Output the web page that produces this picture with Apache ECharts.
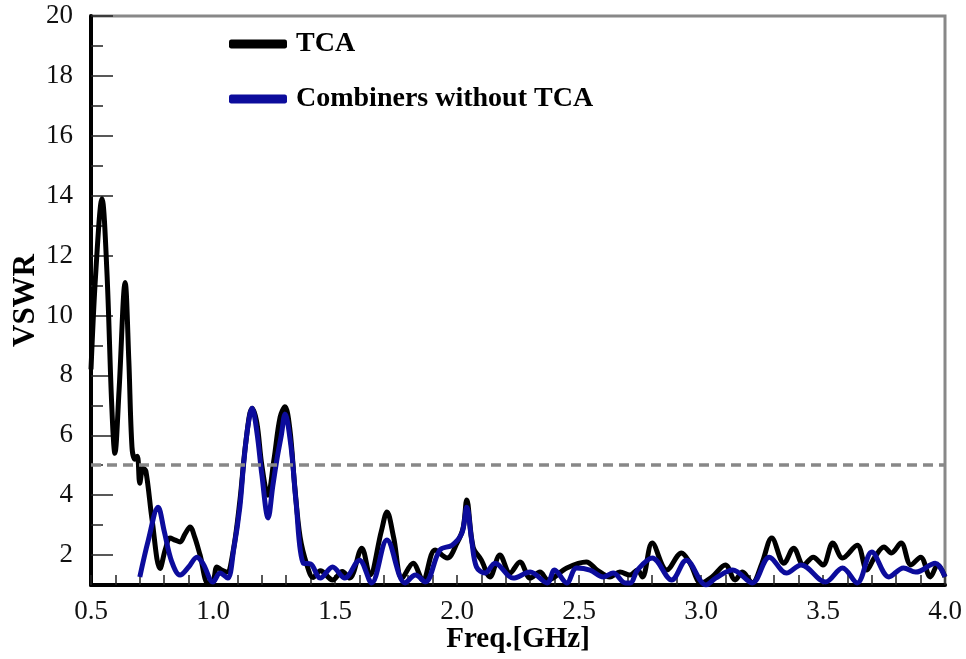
<!DOCTYPE html>
<html>
<head>
<meta charset="utf-8">
<script src="https://cdn.jsdelivr.net/npm/echarts@6/dist/echarts.min.js"></script>
<style>
html,body{margin:0;padding:0;background:#fff;}
#chart{width:966px;height:659px;}
</style>
</head>
<body>
<div id="chart"></div>
<script>
// ---- data ----
const seriesNames = ['TCA', 'Combiners without TCA'];

const tcaFreq = [0.5,0.52,0.545,0.565,0.585,0.598,0.615,0.64,0.655,0.668,0.68,0.69,0.70,0.713,0.725,0.75,0.783,0.805,0.824,0.845,0.865,0.885,0.906,0.925,0.947,0.98,1.0,1.016,1.035,1.057,1.082,1.11,1.135,1.16,1.18,1.2,1.225,1.25,1.275,1.295,1.315,1.335,1.357,1.385,1.41,1.44,1.49,1.53,1.56,1.61,1.643,1.69,1.713,1.74,1.775,1.82,1.86,1.91,1.96,2.0,2.025,2.04,2.066,2.10,2.135,2.176,2.217,2.258,2.30,2.34,2.373,2.45,2.53,2.574,2.627,2.668,2.709,2.74,2.76,2.80,2.86,2.92,2.955,3.0,3.045,3.10,3.14,3.17,3.21,3.25,3.29,3.34,3.38,3.42,3.46,3.50,3.54,3.58,3.64,3.68,3.71,3.75,3.78,3.82,3.86,3.90,3.94,3.97,4.0];
const tcaVswr = [8.2,11.5,13.9,11.5,7.0,5.4,7.5,11.1,8.5,5.6,5.2,5.3,4.4,4.9,4.8,3.2,1.55,2.2,2.57,2.5,2.44,2.7,2.94,2.6,2.0,1.05,1.1,1.6,1.5,1.43,2.1,3.8,5.8,6.9,6.4,5.0,4.0,5.2,6.6,6.95,6.2,4.3,2.6,1.67,1.25,1.48,1.17,1.45,1.23,2.23,1.33,2.8,3.44,2.6,1.23,1.73,1.17,2.17,1.9,2.4,2.9,3.84,2.27,1.83,1.27,2.0,1.4,1.77,1.23,1.43,1.17,1.57,1.77,1.5,1.27,1.43,1.33,1.5,1.27,2.4,1.5,2.07,1.73,1.07,1.27,1.67,1.17,1.43,1.07,1.73,2.57,1.73,2.23,1.67,1.93,1.67,2.4,1.9,2.33,1.5,1.9,2.27,2.07,2.4,1.67,1.93,1.27,1.67,1.27];

const combFreq = [0.70,0.735,0.775,0.80,0.83,0.865,0.90,0.934,0.96,1.0,1.029,1.06,1.085,1.11,1.125,1.143,1.16,1.18,1.20,1.226,1.245,1.262,1.28,1.295,1.32,1.34,1.37,1.40,1.44,1.49,1.54,1.60,1.65,1.713,1.787,1.83,1.87,1.93,1.98,2.02,2.04,2.06,2.08,2.115,2.156,2.23,2.30,2.37,2.40,2.45,2.49,2.545,2.60,2.64,2.69,2.71,2.74,2.80,2.88,2.94,3.02,3.06,3.13,3.21,3.28,3.35,3.41,3.51,3.58,3.64,3.70,3.77,3.83,3.88,3.96,4.0];
const combVswr = [1.27,2.5,3.6,2.8,1.8,1.33,1.6,1.93,1.7,1.1,1.4,1.23,2.2,3.6,5.0,6.3,6.9,6.1,4.7,3.24,4.3,5.2,6.0,6.7,5.6,3.8,1.73,1.7,1.23,1.6,1.23,1.83,1.07,2.5,1.07,1.33,1.1,2.17,2.33,2.73,3.6,2.5,1.6,1.4,1.73,1.23,1.43,1.07,1.5,1.07,1.57,1.5,1.27,1.4,1.07,1.07,1.5,1.9,1.17,1.83,1.0,1.23,1.5,1.07,1.93,1.4,1.67,1.1,1.57,1.07,2.1,1.27,1.57,1.43,1.73,1.27];

const thresholdVswr = 5;
const yLabelValues = [2,4,6,8,10,12,14,16,18,20];
const yMinorTicks = [3,5,7,9,11,13,15,17,19];
const xLabelValues = [0.5,1.0,1.5,2.0,2.5,3.0,3.5,4.0];

// ---- chart ----
const pairs = (xs, ys) => xs.map((x, i) => [x, ys[i]]);
const serif = '"Liberation Serif", "Times New Roman", serif';

const chart = echarts.init(document.getElementById('chart'));
chart.setOption({
  animation: false,
  backgroundColor: '#fff',
  grid: { left: 91, right: 21, top: 16, bottom: 74, containLabel: false, outerBoundsMode: 'none',
          show: true, borderColor: '#888', borderWidth: 3, backgroundColor: 'transparent' },
  legend: {
    orient: 'vertical', left: 224, top: 25, itemGap: 27,
    itemWidth: 58, itemHeight: 9, icon: 'roundRect',
    textStyle: { fontFamily: serif, fontWeight: 'bold', fontSize: 28, color: '#000', padding: [0,0,0,4] },
    data: seriesNames
  },
  xAxis: {
    type: 'value', min: 0.5, max: 4.0, interval: 0.5,
    name: 'Freq.[GHz]', nameLocation: 'middle', nameGap: 40, nameMoveOverlap: false,
    nameTextStyle: { fontFamily: serif, fontWeight: 'bold', fontSize: 29, color: '#000' },
    axisLine: { show: true, onZero: false, lineStyle: { color: '#000', width: 4 } },
    axisTick: { show: true, inside: true, length: 10, lineStyle: { color: '#222', width: 1.5 } },
    minorTick: { show: true, splitNumber: 5, length: 10, lineStyle: { color: '#222', width: 1.5 } },
    axisLabel: { fontFamily: serif, fontSize: 27, color: '#111', margin: 13, formatter: v => v.toFixed(1), customValues: xLabelValues },
    splitLine: { show: false }, minorSplitLine: { show: false }
  },
  yAxis: [{
    type: 'value', min: 1, max: 20,
    name: 'VSWR', nameLocation: 'middle', nameGap: 50, nameRotate: 90, nameMoveOverlap: false,
    nameTextStyle: { fontFamily: serif, fontWeight: 'bold', fontSize: 31, color: '#000' },
    axisLine: { show: true, onZero: false, lineStyle: { color: '#000', width: 4 } },
    axisTick: { show: true, inside: true, length: 22, customValues: yLabelValues, lineStyle: { color: '#222', width: 1.5 } },
    axisLabel: { fontFamily: serif, fontSize: 27, color: '#111', margin: 18, customValues: yLabelValues },
    splitLine: { show: false }
  }, {
    type: 'value', min: 1, max: 20, position: 'left',
    axisLine: { show: false },
    axisTick: { show: true, inside: true, length: 12, customValues: yMinorTicks, lineStyle: { color: '#222', width: 1.5 } },
    axisLabel: { show: false },
    splitLine: { show: false }
  }],
  series: [{
    name: seriesNames[0], type: 'line', data: pairs(tcaFreq, tcaVswr),
    smooth: 0.35, showSymbol: false, clip: true,
    lineStyle: { color: '#000', width: 5 }, itemStyle: { color: '#000' },
    markLine: {
      silent: true, symbol: 'none', label: { show: false },
      lineStyle: { color: '#888', width: 3.5, type: [10, 6] },
      data: [{ yAxis: thresholdVswr }]
    },
    z: 2
  }, {
    name: seriesNames[1], type: 'line', data: pairs(combFreq, combVswr),
    smooth: 0.35, showSymbol: false, clip: true,
    lineStyle: { color: '#0c0c9c', width: 5 }, itemStyle: { color: '#0c0c9c' },
    z: 3
  }]
});
</script>
</body>
</html>
